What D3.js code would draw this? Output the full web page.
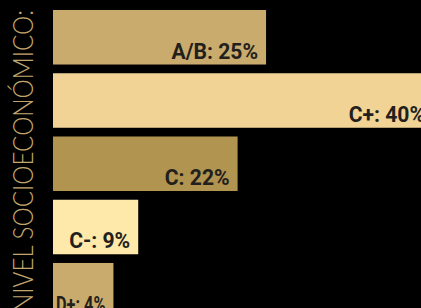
<!DOCTYPE html>
<html>
<head>
  <meta charset="UTF-8">
  <title>Nivel socioeconómico</title>
  <script src="https://d3js.org/d3.v7.min.js"></script>
  <style>
    body {
      margin: 0;
      padding: 0;
      background: #000;
      overflow: hidden;
    }
    svg {
      display: block;
    }
    .label {
      font-family: Roboto, sans-serif;
      font-weight: 700;
      font-size: 22px;
      fill: #231f1c;
    }
    .title {
      font-family: Lato, sans-serif;
      font-weight: 300;
      font-size: 27px;
      fill: #c2a66e;
    }
  </style>
</head>
<body>

<script>
  const width = 421;
  const height = 308;

  // data
  const levels = ["A/B", "C+", "C", "C-", "D+"];
  const shares = [25, 40, 22, 9, 4];
  const colors = ["#c9ab6d", "#f0d395", "#b09450", "#fee9aa", "#c9ab6d"];
  const title = "NIVEL SOCIOECONÓMICO:";

  const data = levels.map((l, i) => ({ level: l, share: shares[i], color: colors[i] }));

  const svg = d3.select("body")
    .append("svg")
    .attr("width", width)
    .attr("height", height);

  const left = 53;
  const squeeze = 0.96;

  const y = d3.scaleBand()
    .domain(levels)
    .range([10, 317.5])
    .paddingInner(0.138)
    .paddingOuter(0);

  const x = d3.scalePow()
    .exponent(1.5)
    .domain([0, 40])
    .range([50, 380]);

  const bars = svg.selectAll("g.bar")
    .data(data)
    .enter().append("g")
    .attr("class", "bar")
    .attr("transform", d => `translate(${left}, ${y(d.level)})`);

  bars.append("rect")
    .attr("width", d => x(d.share))
    .attr("height", y.bandwidth())
    .attr("fill", d => d.color);

  // slightly squeezed bold labels, right-aligned inside each bar
  bars.append("text")
    .attr("class", "label")
    .attr("transform", d => `translate(${x(d.share) - 8}, ${y.bandwidth() - 6}) scale(${squeeze}, 1)`)
    .attr("text-anchor", "end")
    .text(d => `${d.level}: ${d.share}%`)
    .each(function(d) {
      // tighten labels that don't fit their bar
      const room = (x(d.share) - 11) / squeeze;
      if (this.getComputedTextLength() > room) {
        d3.select(this)
          .attr("textLength", room)
          .attr("lengthAdjust", "spacingAndGlyphs");
      }
    });

  svg.append("text")
    .attr("class", "title")
    .attr("transform", "translate(33, 312) rotate(-90)")
    .attr("textLength", 302)
    .attr("lengthAdjust", "spacingAndGlyphs")
    .text(title);
</script>

</body>
</html>
